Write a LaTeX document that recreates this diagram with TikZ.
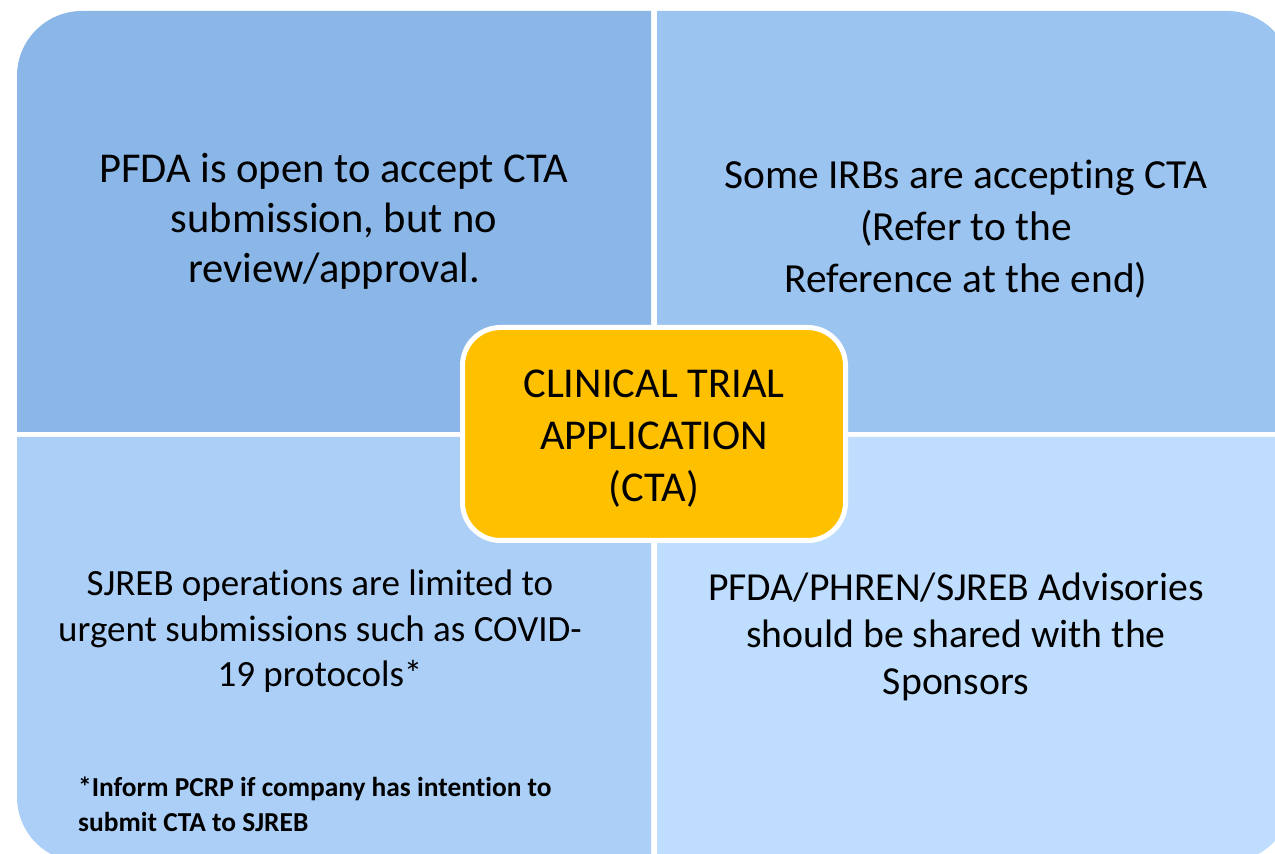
\documentclass[tikz,border=0pt]{standalone}
\usepackage{fontspec}
\setmainfont[Ligatures=CommonOff]{Carlito}
\definecolor{qTL}{HTML}{8AB7E8}
\definecolor{qTR}{HTML}{9BC4F0}
\definecolor{qBL}{HTML}{ABCFF7}
\definecolor{qBR}{HTML}{BFDDFE}
\definecolor{ctaorange}{HTML}{FFC000}
\tikzset{
  quadtxt/.style={align=center, anchor=base, inner sep=0pt},
  notetxt/.style={align=left, anchor=base west, inner sep=0pt, font=\fontsize{27.4}{35}\selectfont\bfseries},
  centerbox/.style={fill=ctaorange, draw=white, line width=5pt, rounded corners=38pt,
    minimum width=383pt, minimum height=213pt, inner sep=0pt}
}
\begin{document}
\begin{tikzpicture}[x=1pt,y=1pt]
\useasboundingbox (0,0) rectangle (1275,854);
\clip (0,0) rectangle (1275,854);
% quadrants
\fill[qTL] (17,422) -- (17,778) arc[start angle=180,end angle=90,radius=65pt] -- (651,843) -- (651,422) -- cycle;
\fill[qTR] (657,422) -- (657,843) -- (1227,843) arc[start angle=90,end angle=0,radius=65pt] -- (1292,422) -- cycle;
\fill[qBL] (17,417) -- (17,57) arc[start angle=180,end angle=270,radius=65pt] -- (651,-8) -- (651,417) -- cycle;
\fill[qBR] (657,417) -- (657,-8) -- (1227,-8) arc[start angle=270,end angle=360,radius=65pt] -- (1292,417) -- cycle;
% texts (base anchor = baseline of the last line)
\node[quadtxt, font=\fontsize{42.5}{50}\selectfont] (tl) at (334,571) {PFDA is open to accept CTA\\submission, but no\\review/approval.};
\node[quadtxt, font=\fontsize{41.4}{52}\selectfont] (tr) at (966,561) {Some IRBs are accepting CTA\\(Refer to the\\Reference at the end)};
\node[quadtxt, font=\fontsize{37}{45.5}\selectfont] (bl) at (320,167) {SJREB operations are limited to\\urgent submissions such as COVID-\\19 protocols*};
\node[quadtxt, font=\fontsize{39.7}{47}\selectfont] (br) at (956,159) {PFDA/PHREN/SJREB Advisories\\should be shared with the\\Sponsors};
\node[notetxt] (note) at (78,22) {*Inform PCRP if company has intention to\\submit CTA to SJREB};
% center
\node[centerbox] (cta) at (654,420) {};
\node[quadtxt, font=\fontsize{42.5}{52}\selectfont] (ctatxt) at (654,352) {CLINICAL TRIAL\\APPLICATION\\(CTA)};
\end{tikzpicture}
\end{document}
